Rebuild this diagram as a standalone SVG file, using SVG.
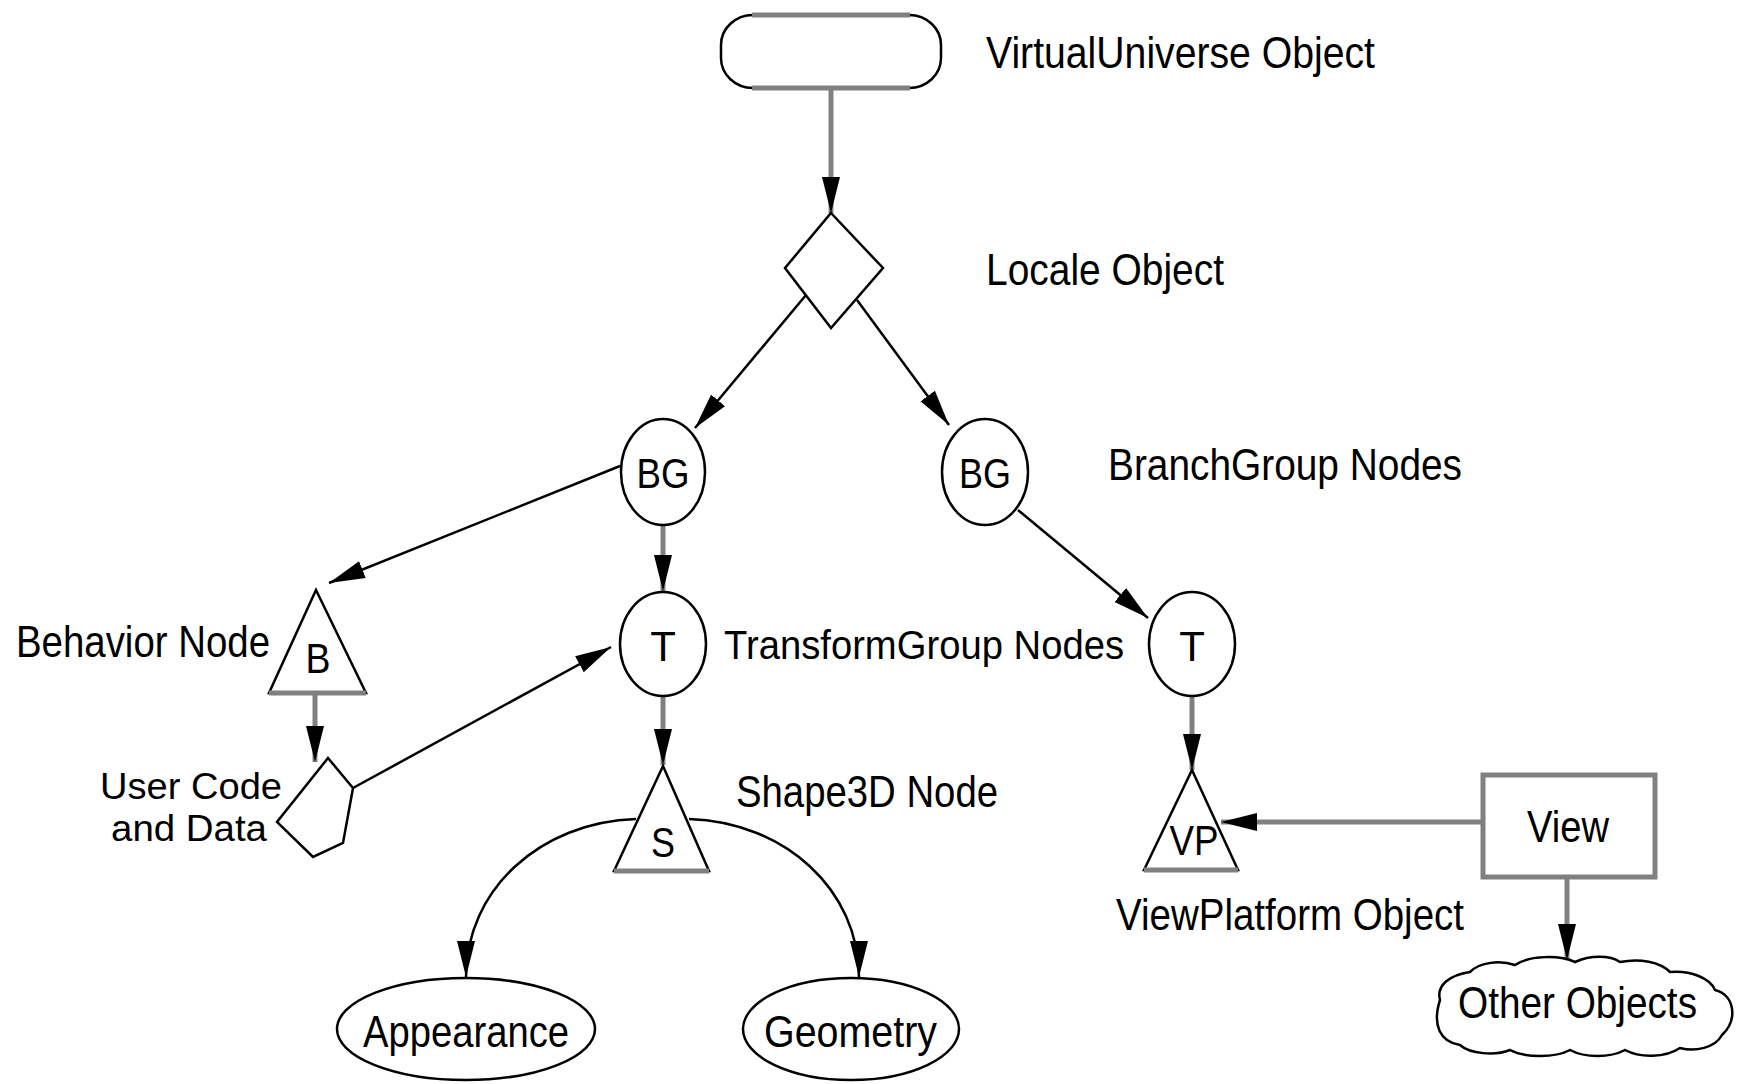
<svg xmlns="http://www.w3.org/2000/svg" width="1741" height="1084" viewBox="0 0 1741 1084">
<style>
  .shape { fill: #fff; stroke: #000; stroke-width: 2.5; }
  .base { stroke: #808080; stroke-width: 5; fill: none; }
  .conn { fill: none; stroke: #000; stroke-width: 2.5; }
  .connv { fill: none; stroke: #808080; stroke-width: 5; }
  .lbl { font-family: "Liberation Sans", Arial, sans-serif; font-size: 44px; fill: #000; }
  .sm { font-size: 40px; }
  .xs { font-size: 36px; }
  .nl { font-family: "Liberation Sans", Arial, sans-serif; font-size: 42px; fill: #000; text-anchor: middle; }
</style>
<defs>
  <marker id="ah" markerUnits="userSpaceOnUse" markerWidth="36" markerHeight="20" viewBox="0 0 36 20" refX="36" refY="10" orient="auto">
    <path d="M0,1 L36,10 L0,19 z" fill="#000"/>
  </marker>
</defs>
<rect width="1741" height="1084" fill="#fff"/>

<g id="connectors">
  <line class="connv" x1="831" y1="89" x2="831" y2="213" marker-end="url(#ah)"/>
  <line class="conn" x1="806" y1="295" x2="695" y2="428" marker-end="url(#ah)"/>
  <line class="conn" x1="857" y1="300" x2="949" y2="425" marker-end="url(#ah)"/>
  <line class="conn" x1="620" y1="466" x2="329" y2="583" marker-end="url(#ah)"/>
  <line class="connv" x1="663" y1="525" x2="663" y2="591" marker-end="url(#ah)"/>
  <line class="conn" x1="1018" y1="510" x2="1148" y2="618" marker-end="url(#ah)"/>
  <line class="connv" x1="315" y1="694" x2="315" y2="762" marker-end="url(#ah)"/>
  <line class="conn" x1="353" y1="788" x2="611" y2="647" marker-end="url(#ah)"/>
  <line class="connv" x1="663" y1="697" x2="663" y2="765" marker-end="url(#ah)"/>
  <line class="connv" x1="1192" y1="696" x2="1192" y2="770" marker-end="url(#ah)"/>
  <line class="connv" x1="1483" y1="822" x2="1221" y2="822" marker-end="url(#ah)"/>
  <line class="connv" x1="1567" y1="879" x2="1567" y2="960" marker-end="url(#ah)"/>
  <path class="conn" d="M636,819 C540,822 466,890 466,977" marker-end="url(#ah)"/>
  <path class="conn" d="M689,819 C785,822 859,890 859,977" marker-end="url(#ah)"/>
</g>

<g id="virtualuniverse">
  <rect class="shape" x="721" y="15" width="220" height="73" rx="32" ry="30"/>
  <line class="base" x1="752" y1="15" x2="910" y2="15"/>
  <line class="base" x1="752" y1="88" x2="910" y2="88"/>
  <text class="lbl" x="986" y="68" textLength="389" lengthAdjust="spacingAndGlyphs">VirtualUniverse Object</text>
</g>

<g id="locale">
  <polygon class="shape" points="831,213 883,268 831,328 785,268"/>
  <text class="lbl" x="986" y="285" textLength="238" lengthAdjust="spacingAndGlyphs">Locale Object</text>
</g>

<g id="bg1">
  <ellipse class="shape" cx="663" cy="472" rx="42" ry="53"/>
  <text class="nl" x="663" y="488" textLength="53" lengthAdjust="spacingAndGlyphs">BG</text>
</g>

<g id="bg2">
  <ellipse class="shape" cx="985" cy="472" rx="43" ry="53"/>
  <text class="nl" x="985" y="488" textLength="52" lengthAdjust="spacingAndGlyphs">BG</text>
  <text class="lbl" x="1108" y="480" textLength="354" lengthAdjust="spacingAndGlyphs">BranchGroup Nodes</text>
</g>

<g id="t1">
  <ellipse class="shape" cx="663" cy="644" rx="43" ry="52"/>
  <text class="nl" x="663" y="661">T</text>
  <text class="lbl sm" x="724" y="659" textLength="400" lengthAdjust="spacingAndGlyphs">TransformGroup Nodes</text>
</g>

<g id="t2">
  <ellipse class="shape" cx="1192" cy="644" rx="43" ry="52"/>
  <text class="nl" x="1192" y="661">T</text>
</g>

<g id="behavior">
  <polygon class="shape" points="316,590 366,693 269,693"/>
  <line class="base" x1="269" y1="693" x2="366" y2="693"/>
  <text class="nl" x="318" y="673" textLength="25" lengthAdjust="spacingAndGlyphs">B</text>
  <text class="lbl" x="16" y="657" textLength="254" lengthAdjust="spacingAndGlyphs">Behavior Node</text>
</g>

<g id="usercode">
  <polygon class="shape" points="328,758 353,788 343,843 313,857 277,822"/>
  <text class="lbl xs" x="100" y="799" textLength="182" lengthAdjust="spacingAndGlyphs">User Code</text>
  <text class="lbl xs" x="111" y="841" textLength="156" lengthAdjust="spacingAndGlyphs">and Data</text>
</g>

<g id="shape3d">
  <polygon class="shape" points="663,766 709,871 614,871"/>
  <line class="base" x1="614" y1="871" x2="709" y2="871"/>
  <text class="nl" x="663" y="857" textLength="24" lengthAdjust="spacingAndGlyphs">S</text>
  <text class="lbl" x="736" y="807" textLength="262" lengthAdjust="spacingAndGlyphs">Shape3D Node</text>
</g>

<g id="appearance">
  <ellipse class="shape" cx="466" cy="1029" rx="129" ry="51"/>
  <text class="lbl" x="363" y="1047" textLength="206" lengthAdjust="spacingAndGlyphs">Appearance</text>
</g>

<g id="geometry">
  <ellipse class="shape" cx="851" cy="1029" rx="108" ry="51"/>
  <text class="lbl" x="764" y="1047" textLength="173" lengthAdjust="spacingAndGlyphs">Geometry</text>
</g>

<g id="viewplatform">
  <polygon class="shape" points="1192,770 1238,870 1144,870"/>
  <line class="base" x1="1144" y1="870" x2="1238" y2="870"/>
  <text class="nl" x="1194" y="855" textLength="49" lengthAdjust="spacingAndGlyphs">VP</text>
  <text class="lbl" x="1116" y="930" textLength="348" lengthAdjust="spacingAndGlyphs">ViewPlatform Object</text>
</g>

<g id="view">
  <rect x="1483" y="775" width="172" height="102" fill="#fff" stroke="#808080" stroke-width="5"/>
  <text class="lbl" x="1527" y="842" textLength="82" lengthAdjust="spacingAndGlyphs">View</text>
</g>

<g id="otherobjects">
  <path class="shape" d="M1440,1000 C1436,985 1450,975 1470,972 C1480,962 1500,960 1515,965 C1530,955 1560,955 1575,962 C1590,955 1610,955 1620,962 C1640,958 1660,962 1670,972 C1690,970 1710,978 1715,990 C1735,995 1738,1020 1722,1035 C1715,1048 1695,1052 1680,1048 C1665,1058 1640,1058 1625,1050 C1610,1058 1585,1058 1570,1050 C1555,1058 1525,1058 1510,1050 C1495,1056 1470,1054 1460,1045 C1440,1042 1432,1025 1440,1000 Z"/>
  <text class="lbl" x="1458" y="1018" textLength="239" lengthAdjust="spacingAndGlyphs">Other Objects</text>
</g>
</svg>
